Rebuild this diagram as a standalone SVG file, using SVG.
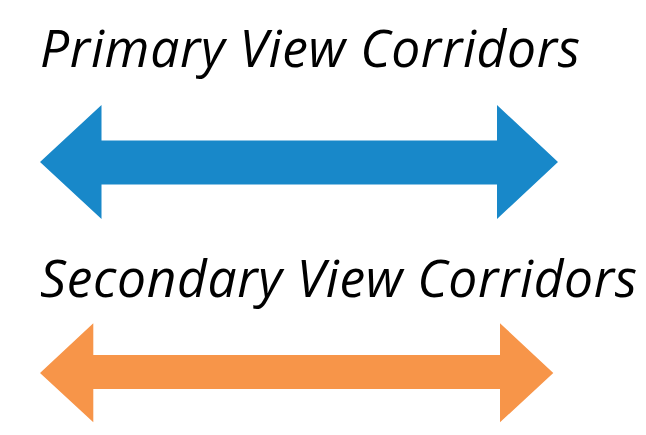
<svg xmlns="http://www.w3.org/2000/svg" width="646" height="435" viewBox="0 0 646 435">
<style>
.lbl{font-family:"Open Sans","Noto Sans",sans-serif;font-style:italic;font-size:51.5px;fill:#000}
.primary{fill:#1888C9}
.secondary{fill:#F79549}
</style>
<rect width="646" height="435" fill="#fff"/>
<g id="primary-label"><text class="lbl" x="40" y="66.5" textLength="540" lengthAdjust="spacing">Primary View Corridors</text></g>
<g id="secondary-label"><text class="lbl" x="40" y="296.5" textLength="597" lengthAdjust="spacing">Secondary View Corridors</text></g>
<g id="connectors">
<polygon id="primary-arrow" class="primary" points="40,162 101.5,105 101.5,140.5 497,140.5 497,105 558,162 497,219 497,184.5 101.5,184.5 101.5,219"/>
<polygon id="secondary-arrow" class="secondary" points="40,373 93.3,323.3 93.3,355 500,355 500,323.3 553.3,373 500,422.3 500,389 93.3,389 93.3,422.3"/>
</g>
</svg>
